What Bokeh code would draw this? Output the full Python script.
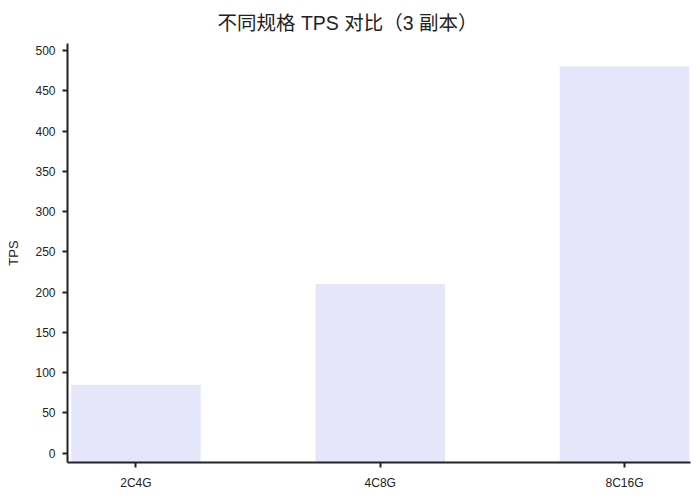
from bokeh.plotting import figure
from bokeh.models import Range1d, FixedTicker, Title
from bokeh.embed import file_html
from bokeh.resources import INLINE

# ---- data ----
categories = ["2C4G", "4C8G", "8C16G"]
tps_values = [85, 210, 480]
y_ticks = [0, 50, 100, 150, 200, 250, 300, 350, 400, 450, 500]
title_text = "不同规格 TPS 对比（3 副本）"
y_label = "TPS"

# ---- styling ----
Y_MIN, Y_MAX = -11.5, 508.7
X_MIN, X_MAX = -0.28, 2.27
BAR_WIDTH = 0.53
FONT = "'Liberation Sans', 'Noto Sans CJK SC', sans-serif"
INK = "#222222"
BAR_COLOR = "#E6E6FA"

xs = list(range(len(categories)))

p = figure(
    width=692, height=492,
    output_backend="svg", toolbar_location=None,
    x_range=Range1d(X_MIN, X_MAX), y_range=Range1d(Y_MIN, Y_MAX),
    min_border_left=67, min_border_right=2, min_border_top=43, min_border_bottom=30,
)
p.title = Title(text=title_text, align="left", offset=150, vertical_align="top",
                text_font=FONT, text_font_size="19.5px", text_font_style="normal",
                text_color=INK, standoff=16)

p.vbar(x=xs, top=tps_values, bottom=Y_MIN, width=BAR_WIDTH,
       fill_color=BAR_COLOR, line_color=None)

p.outline_line_color = None
p.xgrid.visible = False
p.ygrid.visible = False
p.background_fill_color = "white"
p.border_fill_color = "white"

p.xaxis.ticker = FixedTicker(ticks=xs)
p.xaxis.major_label_overrides = {i: c for i, c in zip(xs, categories)}
p.yaxis.ticker = FixedTicker(ticks=y_ticks)
p.yaxis.axis_label = y_label

for ax in (p.xaxis[0], p.yaxis[0]):
    ax.axis_line_color = INK
    ax.axis_line_width = 2
    ax.major_tick_line_color = INK
    ax.major_tick_line_width = 2
    ax.major_tick_out = 5
    ax.major_tick_in = 0
    ax.minor_tick_line_color = None
    ax.major_label_text_font = FONT
    ax.major_label_text_font_size = "12px"
    ax.major_label_text_color = INK
    ax.major_label_standoff = 7
    ax.axis_label_text_font = FONT
    ax.axis_label_text_font_size = "13px"
    ax.axis_label_text_font_style = "normal"
    ax.axis_label_text_color = INK
p.xaxis.major_label_standoff = 8
p.yaxis.axis_label_standoff = 11

open("out.html", "w").write(file_html(p, INLINE))
